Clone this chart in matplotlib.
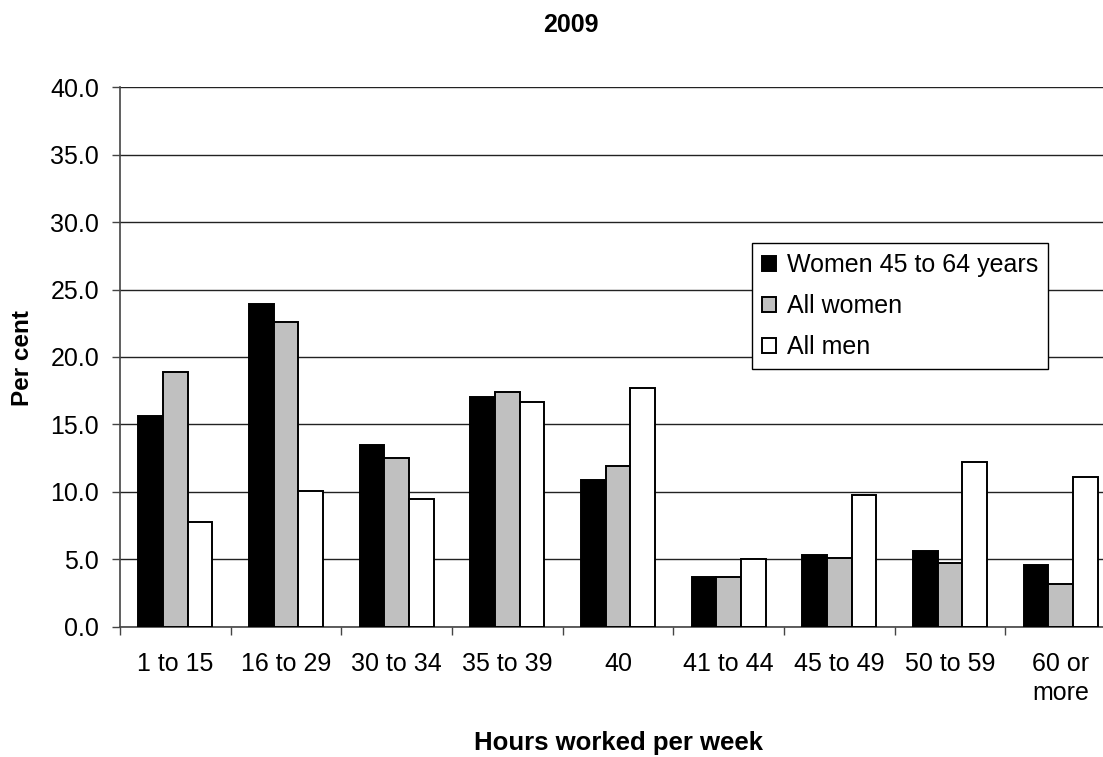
import numpy as np
import matplotlib
matplotlib.use("Agg")
import matplotlib.pyplot as plt
from matplotlib.ticker import FixedLocator, FormatStrFormatter

plt.rcParams['font.family'] = ['Liberation Sans', 'DejaVu Sans']

categories = ["1 to 15", "16 to 29", "30 to 34", "35 to 39", "40",
              "41 to 44", "45 to 49", "50 to 59", "60 or\nmore"]
women_45_64 = [15.6, 23.9, 13.5, 17.0, 10.9, 3.7, 5.3, 5.6, 4.6]
all_women = [18.9, 22.6, 12.5, 17.4, 11.9, 3.7, 5.1, 4.7, 3.2]
all_men = [7.8, 10.1, 9.5, 16.7, 17.7, 5.0, 9.8, 12.2, 11.1]

W, H = 1103, 757
fig = plt.figure(figsize=(W / 100, H / 100), dpi=100)
# plot area runs past the right edge of the picture, as in the original
left, right, top, bottom = 120, 1116, 87.3, 626.7
ax = fig.add_axes([left / W, 1 - bottom / H, (right - left) / W, (bottom - top) / H])

x = np.arange(len(categories))
bw = 0.222
series = [(women_45_64, "black", "Women 45 to 64 years"),
          (all_women, "#c0c0c0", "All women"),
          (all_men, "white", "All men")]
for i, (vals, col, lab) in enumerate(series):
    ax.bar(x + (i - 1) * bw, vals, bw, color=col, edgecolor="black",
           linewidth=1.4, label=lab, zorder=3)

ax.set_xlim(-0.5, len(categories) - 0.5)
ax.set_ylim(0, 40)
ax.set_yticks(np.arange(0, 40.1, 5))
ax.yaxis.set_major_formatter(FormatStrFormatter("%.1f"))
ax.grid(axis="y", color="#222222", linewidth=1, zorder=0)

ax.set_xticks(x)
ax.set_xticklabels(categories, linespacing=1.3)
ax.xaxis.set_minor_locator(FixedLocator(np.arange(-0.5, len(categories), 1)))
ax.tick_params(axis="x", which="major", length=0, pad=18, labelsize=18)
ax.tick_params(axis="x", which="minor", length=5.5, width=1, color="#444444")
ax.tick_params(axis="y", length=6, width=1, color="#444444", labelsize=18, pad=9)

for s in ["top", "right"]:
    ax.spines[s].set_visible(False)
for s in ["left", "bottom"]:
    ax.spines[s].set_color("#444444")
    ax.spines[s].set_linewidth(1.2)

leg = ax.legend(loc="upper left", bbox_to_anchor=((752 - left) / (right - left), (bottom - 243) / (bottom - top)),
                fontsize=18, frameon=True, fancybox=False, framealpha=1,
                edgecolor="black", handlelength=0.55, handleheight=0.55,
                handletextpad=0.45, borderpad=0.4, labelspacing=0.68,
                borderaxespad=0)
leg.get_frame().set_linewidth(1)

fig.text(571 / W, 1 - 25 / H, "2009", ha="center", va="center",
         fontsize=18, fontweight="bold")
fig.text(23 / W, 1 - 358 / H, "Per cent", ha="center", va="center",
         rotation=90, fontsize=17.5, fontweight="bold")
fig.text(618 / W, 1 - 743 / H, "Hours worked per week", ha="center", va="center",
         fontsize=18.5, fontweight="bold")

fig.savefig("out.png", dpi=100)
